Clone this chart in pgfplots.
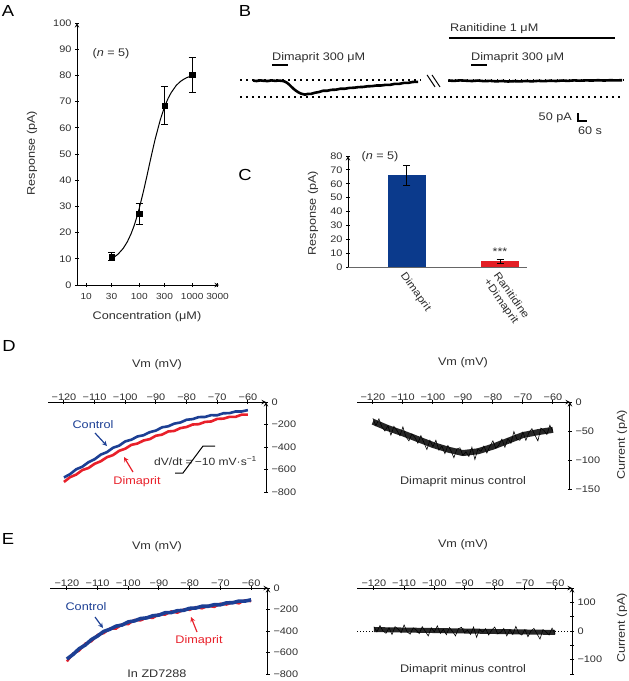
\documentclass[border=0pt]{standalone}
\usepackage{fontspec}
\setmainfont{Liberation Sans}[FakeStretch=1.15]
\usepackage{pgfplots}
\pgfplotsset{compat=1.18}
\definecolor{ctrlblue}{HTML}{1C3F94}
\definecolor{dimred}{HTML}{E8202A}
\definecolor{barblue}{HTML}{0B3A8C}
\definecolor{barred}{HTML}{E31E24}
\definecolor{txt}{HTML}{2E2E2E}
\pgfplotsset{
  base/.style={scale only axis, clip=false,
    axis line style={-, line width=1pt, black},
    tick style={line width=1pt, black},
    tick align=outside, major tick length=4pt,
    tick label style={font=\fontsize{9.5}{10.5}\selectfont, text=txt},
    /pgf/number format/assume math mode=true},
  ivaxis/.style={base, axis x line=top, axis y line=right,
    xtick={-120,-110,...,-60},
    xticklabels={−120,−110,−100,−90,−80,−70,−60},
    xticklabel shift=-1.5pt,
    xticklabel style={inner sep=1pt}},
}
\tikzset{lab/.style={font=\fontsize{11}{13}\selectfont, text=txt, inner sep=0pt},
  panel/.style={font=\fontsize{16}{18}\selectfont, inner sep=0pt}}
\begin{document}
\begin{tikzpicture}[x=1pt,y=1pt]
\useasboundingbox (0,0) rectangle (629,-681);

% ---------------- Panel A ----------------
\begin{axis}[base, at={(77pt,-285pt)}, anchor=south west, width=142pt, height=262pt,
  xmode=log, xmin=6.7, xmax=3200, ymin=0, ymax=100,
  axis x line=bottom, axis y line=left, xminorticks=false,
  xtick={10,30,100,300,1000,3000}, xticklabels={10,30,100,300,1000,3000},
  xticklabel shift=3pt,
  xticklabel style={font=\fontsize{8.8}{10}\selectfont},
  ytick={0,10,...,100}]
\addplot[black, line width=1pt] coordinates {(28,9.8) (30,10.1) (35,10.9) (40,11.8) (50,14.0) (60,16.6) (70,19.5) (80,22.6) (90,25.9) (100,29.2) (120,35.7) (140,41.7) (160,47.1) (180,51.7) (200,55.7) (250,63.1) (300,68.0) (350,71.2) (400,73.4) (500,76.2) (600,77.7) (700,78.6) (800,79.2) (1000,79.9)};
\addplot[only marks, mark=square*, mark size=2.6pt, black,
  error bars/.cd, y dir=both, y explicit,
  error bar style={line width=1pt, black},
  error mark options={rotate=90, mark size=3.5pt, line width=1pt, black}]
  coordinates {(30,10.8) +- (0,1.5) (100,27.2) +- (0,4) (300,68.5) +- (0,7.2) (1000,80.2) +- (0,6.8)};
\end{axis}
\node[panel] at (8,-11) {A};
\node[lab] at (111,-54) {(\textit{n} = 5)};
\node[lab, rotate=90] at (32,-153) {Response (pA)};
\node[lab] at (147,-317) {Concentration (μM)};

% ---------------- Panel B ----------------
\begin{axis}[at={(240pt,-123.9pt)}, anchor=south west, scale only axis, width=383pt, height=91.2pt,
  xmin=0, xmax=2553, ymin=-270, ymax=300, hide axis, clip=false]
\addplot[black, line width=1.6pt, dash pattern=on 1.6pt off 4.4pt] coordinates {(0,4) (1200,4)};
\addplot[black, line width=1.6pt, dash pattern=on 1.6pt off 4.4pt] coordinates {(1390,4) (2553,4)};
\addplot[black, line width=1.6pt, dash pattern=on 1.6pt off 4.4pt] coordinates {(0,-100) (2553,-100)};
\addplot[black, line width=2.6pt, line join=round] coordinates {(87,1) (110,-2) (135,2) (160,-1) (185,-2) (210,2) (235,-1) (260,1) (287,-2) (300,-6) (315,-14) (330,-26) (345,-40) (360,-53) (375,-64) (390,-73) (405,-80) (420,-84) (433,-87) (450,-83) (475,-82) (500,-75) (525,-71) (553,-63) (580,-63) (610,-57) (640,-56) (670,-50) (700,-50) (730,-45) (760,-44) (790,-40) (820,-39) (850,-35) (880,-34) (910,-30) (940,-30) (970,-26) (1000,-26) (1030,-20) (1060,-20) (1090,-14) (1120,-14) (1150,-8) (1187,-7)};
\addplot[black, line width=2.6pt, line join=round] coordinates {(1387,1) (1427,-1) (1467,2) (1507,0) (1547,-2) (1587,1) (1627,-3) (1667,-1) (1707,-4) (1747,-2) (1787,-5) (1827,-3) (1867,-4) (1907,-2) (1947,-4) (1987,-1) (2027,-3) (2067,0) (2107,-2) (2147,1) (2187,-1) (2227,2) (2267,0) (2307,2) (2347,1) (2387,3) (2427,1) (2467,3) (2507,2) (2547,3)};
\addplot[black, line width=1.6pt] coordinates {(213,98) (320,98)};
\addplot[black, line width=1.6pt] coordinates {(1540,98) (1647,98)};
\addplot[black, line width=1.3pt] coordinates {(1393,267) (2500,267)};
\addplot[black, line width=1pt] coordinates {(1247,36) (1300,-39)};
\addplot[black, line width=1pt] coordinates {(1280,36) (1333,-39)};
\addplot[black, line width=1.2pt] coordinates {(2253,-202) (2253,-252) (2313,-252)};
\end{axis}
\node[panel] at (245,-11) {B};
\node[lab, anchor=west] at (450,-29) {Ranitidine 1 μM};
\node[lab, anchor=west] at (272,-58) {Dimaprit 300 μM};
\node[lab, anchor=west] at (471,-58) {Dimaprit 300 μM};
\node[lab, anchor=east] at (572,-118) {50 pA};
\node[lab] at (590,-131) {60 s};

% ---------------- Panel C ----------------
\begin{axis}[base, at={(348pt,-267pt)}, anchor=south west, width=179pt, height=111pt,
  xmin=-0.634, xmax=1.29, ymin=0, ymax=80,
  axis x line=bottom, axis y line=left,
  x axis line style={-, line width=0.8pt, black!60},
  ytick={0,10,...,80}, xtick={0,1},
  xticklabels={Dimaprit, {Ranitidine\\+Dimaprit}},
  x tick style={draw=none},
  xticklabel style={rotate=-55, anchor=north west, align=left, inner sep=1pt,
    font=\fontsize{10.5}{12}\selectfont}]
\addplot[ybar, bar width=38pt, fill=barblue, draw=none,
  error bars/.cd, y dir=both, y explicit,
  error bar style={line width=1pt, black},
  error mark options={rotate=90, mark size=3.5pt, line width=1pt, black}]
  coordinates {(0,66) +- (0,7)};
\addplot[ybar, bar width=38pt, fill=barred, draw=none,
  error bars/.cd, y dir=both, y explicit,
  error bar style={line width=1pt, black},
  error mark options={rotate=90, mark size=3.5pt, line width=1pt, black}]
  coordinates {(1,4) +- (0,1.5)};
\end{axis}
\node[panel] at (245,-175) {C};
\node[lab] at (380,-157) {(\textit{n} = 5)};
\node[lab, rotate=90] at (313,-213) {Response (pA)};
\node[lab] at (500,-252) {***};

% ---------------- Panel D left ----------------
\begin{axis}[ivaxis, at={(48pt,-492pt)}, anchor=south west, width=218pt, height=90pt,
  xmin=-125.2, xmax=-54.1, ymin=-800, ymax=0,
  ytick={-800,-600,...,0}, yticklabels={−800,−600,−400,−200,0}]
\addplot[dimred, line width=2.6pt] coordinates {(-120,-711) (-118,-668) (-116,-645) (-114,-605) (-112,-587) (-110,-549) (-108,-527) (-106,-491) (-104,-472) (-102,-434) (-100,-415) (-98,-381) (-96,-369) (-94,-342) (-92,-330) (-90,-300) (-88,-290) (-86,-262) (-84,-257) (-82,-232) (-80,-222) (-78,-200) (-76,-197) (-74,-177) (-72,-173) (-70,-150) (-68,-148) (-66,-132) (-64,-132) (-62,-112) (-60,-112)};
\addplot[ctrlblue, line width=2.6pt] coordinates {(-120,-671) (-118,-641) (-116,-598) (-114,-575) (-112,-535) (-110,-509) (-108,-468) (-106,-446) (-104,-407) (-102,-388) (-100,-350) (-98,-335) (-96,-306) (-94,-295) (-92,-268) (-90,-254) (-88,-225) (-86,-216) (-84,-192) (-82,-182) (-80,-158) (-78,-152) (-76,-134) (-74,-133) (-72,-117) (-70,-118) (-68,-100) (-66,-99) (-64,-84) (-62,-84) (-60,-72)};
\end{axis}
\node[panel] at (9,-346) {D};
\node[lab] at (157,-365) {Vm (mV)};
\node[lab, text=ctrlblue] at (93,-425) {Control};
\draw[ctrlblue, line width=1.2pt, -stealth] (95,-433) -- (107,-446);
\node[lab, text=dimred] at (137,-482) {Dimaprit};
\draw[dimred, line width=1.2pt, -stealth] (133,-472) -- (124,-457);
\node[lab, anchor=west, font=\fontsize{10.5}{12}\selectfont] at (154,-461) {dV/dt =\hspace{2pt}−10 mV·s\textsuperscript{−1}};
\draw[black, line width=1pt] (175,-473) -- (183,-473) -- (203,-446) -- (215,-446);

% ---------------- Panel D right ----------------
\begin{axis}[ivaxis, at={(357pt,-489pt)}, anchor=south west, width=213pt, height=87pt,
  xmin=-125.3, xmax=-54.3, ymin=-150, ymax=0,
  ytick={-150,-100,-50,0}, yticklabels={−150,−100,−50,0}]
\addplot[black!85, line width=6pt, line join=round] coordinates {(-120,-34) (-115,-45) (-110,-54) (-105,-64) (-100,-74) (-95,-82) (-90,-88) (-85,-85) (-80,-77) (-75,-67) (-70,-57) (-65,-52) (-60,-48)};
\addplot[black, line width=0.6pt] coordinates {(-120,-28) (-119,-41) (-118,-29) (-117,-43) (-116,-50) (-115,-41) (-114,-57) (-113,-42) (-112,-49) (-111,-58) (-110,-43) (-109,-60) (-108,-67) (-107,-55) (-106,-61) (-105,-71) (-104,-58) (-103,-70) (-102,-82) (-101,-66) (-100,-77) (-99,-66) (-98,-83) (-97,-76) (-96,-89) (-95,-75) (-94,-84) (-93,-96) (-92,-81) (-91,-79) (-90,-92) (-89,-86) (-88,-94) (-87,-78) (-86,-99) (-85,-81) (-84,-85) (-83,-76) (-82,-88) (-81,-76) (-80,-67) (-79,-80) (-78,-74) (-77,-64) (-76,-78) (-75,-63) (-74,-71) (-73,-51) (-72,-64) (-71,-66) (-70,-52) (-69,-66) (-68,-53) (-67,-46) (-66,-57) (-65,-67) (-64,-45) (-63,-49) (-62,-56) (-61,-40) (-60,-51)};
\end{axis}
\node[lab] at (463,-363) {Vm (mV)};
\node[lab] at (463,-482) {Dimaprit minus control};
\node[lab, rotate=90] at (622,-445) {Current (pA)};

% ---------------- Panel E left ----------------
\begin{axis}[ivaxis, at={(50pt,-674pt)}, anchor=south west, width=218pt, height=86pt,
  xmin=-125.5, xmax=-54.5, ymin=-800, ymax=0,
  ytick={-800,-600,...,0}, yticklabels={−800,−600,−400,−200,0}]
\addplot[dimred, line width=2.4pt] coordinates {(-120,-683) (-118,-611) (-116,-582) (-114,-517) (-112,-496) (-110,-436) (-108,-420) (-106,-378) (-104,-378) (-102,-338) (-100,-336) (-98,-297) (-96,-302) (-94,-275) (-92,-278) (-90,-244) (-88,-248) (-86,-217) (-84,-230) (-82,-201) (-80,-203) (-78,-178) (-76,-189) (-74,-166) (-72,-176) (-70,-146) (-68,-154) (-66,-132) (-64,-143) (-62,-114) (-60,-123)};
\addplot[ctrlblue, line width=3.6pt] coordinates {(-120,-661) (-118,-618) (-116,-565) (-114,-530) (-112,-480) (-110,-446) (-108,-404) (-106,-384) (-104,-355) (-102,-344) (-100,-315) (-98,-306) (-96,-284) (-94,-278) (-92,-258) (-90,-252) (-88,-230) (-86,-228) (-84,-211) (-82,-208) (-80,-189) (-78,-186) (-76,-170) (-74,-170) (-72,-155) (-70,-156) (-68,-138) (-66,-137) (-64,-122) (-62,-122) (-60,-110)};
\end{axis}
\node[panel] at (8,-539) {E};
\node[lab] at (157,-547) {Vm (mV)};
\node[lab, text=ctrlblue] at (86,-607) {Control};
\draw[ctrlblue, line width=1.2pt, -stealth] (95,-617) -- (103,-628);
\node[lab, text=dimred] at (199,-641) {Dimaprit};
\draw[dimred, line width=1.2pt, -stealth] (197,-632) -- (191,-617);
\node[lab] at (157,-674) {In ZD7288};

% ---------------- Panel E right ----------------
\begin{axis}[ivaxis, at={(357pt,-674pt)}, anchor=south west, width=215pt, height=86pt,
  xmin=-125.6, xmax=-54.4, ymin=-150, ymax=150,
  ytick={-150,-100,...,150}, yticklabels={,−100,,0,,100,}]
\addplot[black, line width=1pt, dash pattern=on 1pt off 2pt] coordinates {(-125.6,0) (-54.4,0)};
\addplot[black!85, line width=5pt] coordinates {(-120,5) (-90,0) (-60,-5)};
\addplot[black, line width=0.6pt] coordinates {(-120,15) (-119,-3) (-118,19) (-117,0) (-116,-8) (-115,11) (-114,-12) (-113,15) (-112,7) (-111,-6) (-110,21) (-109,-3) (-108,-11) (-107,11) (-106,4) (-105,-9) (-104,15) (-103,-1) (-102,-17) (-101,11) (-100,-3) (-99,18) (-98,-8) (-97,6) (-96,-13) (-95,12) (-94,-1) (-93,-17) (-92,8) (-91,13) (-90,-6) (-89,3) (-88,-12) (-87,14) (-86,-22) (-85,6) (-84,-4) (-83,8) (-82,-14) (-81,3) (-80,14) (-79,-10) (-78,-4) (-77,9) (-76,-17) (-75,4) (-74,-12) (-73,16) (-72,-8) (-71,-14) (-70,5) (-69,-20) (-68,0) (-67,9) (-66,-10) (-65,-28) (-64,5) (-63,-3) (-62,-14) (-61,10) (-60,-10)};
\end{axis}
\node[lab] at (463,-545) {Vm (mV)};
\node[lab, rotate=90] at (622,-628) {Current (pA)};
\node[lab] at (463,-670) {Dimaprit minus control};
\end{tikzpicture}
\end{document}
